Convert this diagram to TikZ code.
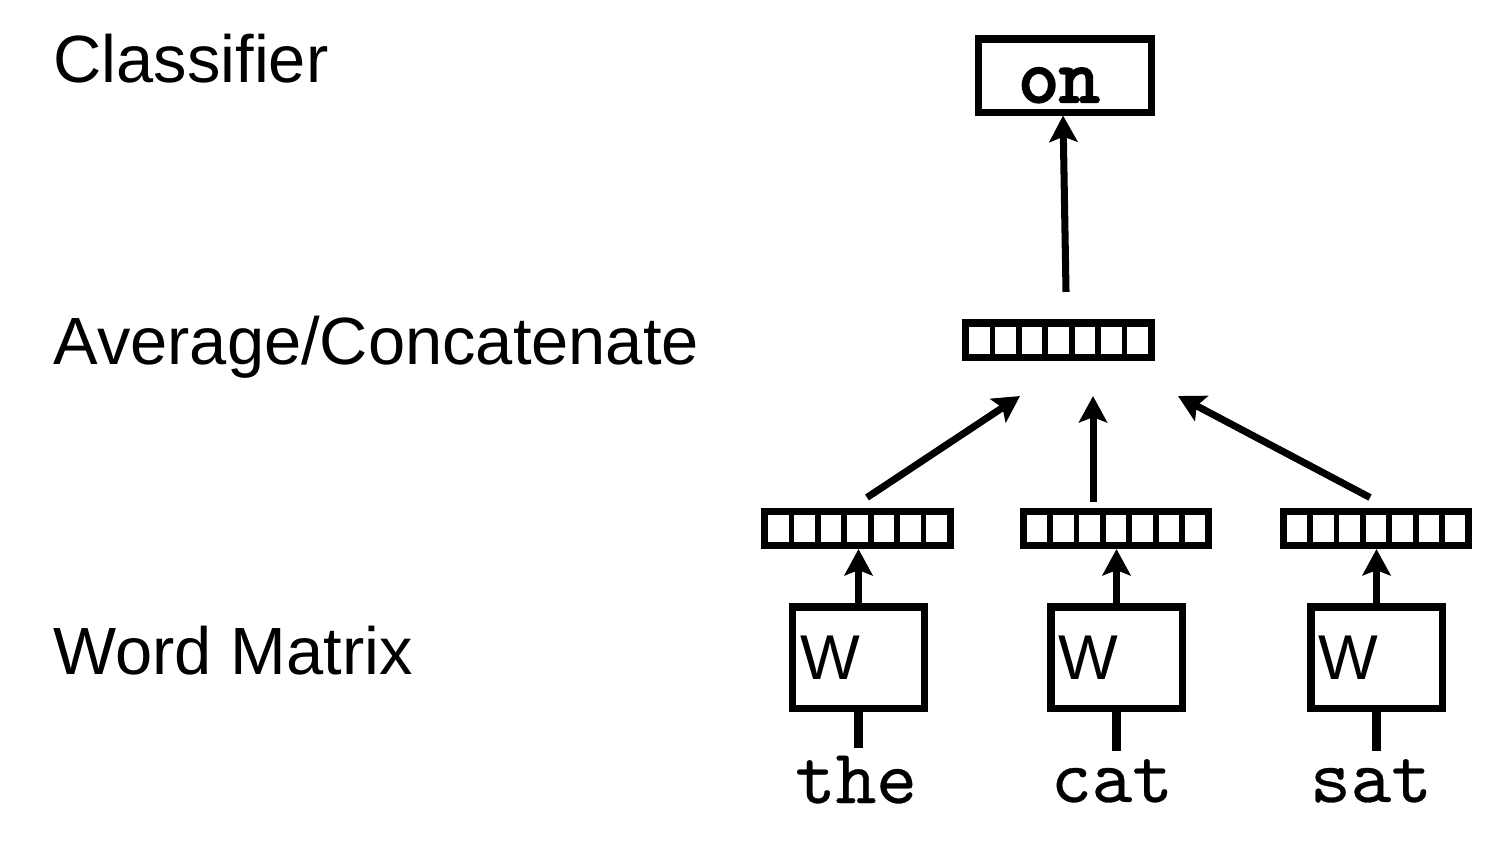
\documentclass[tikz,border=0pt]{standalone}
\usepackage{fontspec}
\setmainfont{Liberation Sans}
\newfontfamily\wordfont{lmmono10-regular.otf}[FakeBold=0.4]
\newfontfamily\clffont{lmmono10-regular.otf}[FakeBold=3]
\usetikzlibrary{arrows.meta,calc}

\begin{document}
\begin{tikzpicture}[x=0.01cm, y=-0.01cm,
        layer/.style={anchor=base west, inner sep=0pt, font=\fontsize{19}{22}\selectfont},
        clfbox/.style={draw, line width=2pt, minimum width=1.72cm, minimum height=0.73cm, inner sep=0pt},
        vec/.style={draw, line width=2pt, minimum width=1.85cm, minimum height=0.34cm, inner sep=0pt,
            path picture={\foreach \k in {1,...,6}{
                \draw[line width=1.6pt] ($(path picture bounding box.south west)!\k/7!(path picture bounding box.south east)$)
                    -- ($(path picture bounding box.north west)!\k/7!(path picture bounding box.north east)$);}}},
        wbox/.style={draw, line width=2pt, minimum height=1.01cm, text width=1.15cm, inner xsep=0.08cm, align=left, font=\fontsize{18}{22}\selectfont},
        word/.style={anchor=base, inner sep=2pt, font=\wordfont\fontsize{22}{24}\selectfont},
        arr/.style={line width=2pt, -{Stealth[length=7.5pt, width=8pt, inset=1.5pt]}},
        stem/.style={line width=2.4pt}
    ]
        \useasboundingbox (0,0) rectangle (1492,860);

        % layer names
        \node[layer] (lblClf) at (53,82) {Classifier};
        \node[layer] (lblAvg) at (53,364) {Average/Concatenate};
        \node[layer] (lblWord) at (53,674) {Word Matrix};

        % classifier output
        \node[clfbox] (clf) at (1065,75.5) {};
        \node[word, font=\clffont\fontsize{22}{24}\selectfont] (clfTxt) at (1059,102) {on};

        % averaged vector
        \node[vec] (vecAvg) at (1058.5,340) {};

        % word vectors
        \node[vec] (vecThe) at (857.5,528.5) {};
        \node[vec] (vecCat) at (1116,528.5) {};
        \node[vec] (vecSat) at (1376,528.5) {};

        % word matrices
        \node[wbox] (wThe) at (858.5,657.5) {W};
        \node[wbox] (wCat) at (1116.5,657.5) {W};
        \node[wbox] (wSat) at (1376.5,657.5) {W};

        % input words
        \node[word] (wdThe) at (856,803) {the};
        \node[word] (wdCat) at (1112,802) {cat};
        \node[word] (wdSat) at (1371,802) {sat};

        \draw[stem] (wThe.south) -- (wThe.south |- wdThe.north);
        \draw[stem] (wCat.south) -- (wCat.south |- wdCat.north);
        \draw[stem] (wSat.south) -- (wSat.south |- wdSat.north);

        \draw[arr] (wThe.north) -- (wThe.north |- vecThe.south);
        \draw[arr] (wCat.north) -- (wCat.north |- vecCat.south);
        \draw[arr] (wSat.north) -- (wSat.north |- vecSat.south);

        \draw[arr] ([shift={(9.5,-10.5)}]vecThe.north) -- ([shift={(-38.5,35.5)}]vecAvg.south);
        \draw[arr] ([shift={(-23,-5.5)}]vecCat.north) -- ([shift={(34.5,35.5)}]vecAvg.south);
        \draw[arr] ([shift={(-6,-10.5)}]vecSat.north) -- ([shift={(119.5,35.5)}]vecAvg.south);

        \draw[arr] ([shift={(7.5,-27.5)}]vecAvg.north) -- ([xshift=-0.02cm]clf.south);
    \end{tikzpicture}
\end{document}
